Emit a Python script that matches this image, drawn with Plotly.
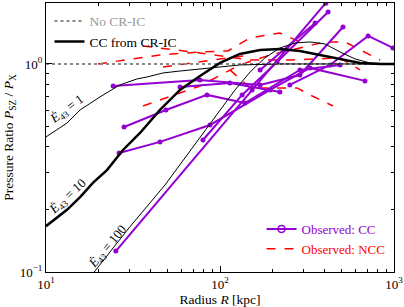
import plotly.graph_objects as go

# ---- model curves (radius kpc, pressure ratio) ----
e1_R = [10, 13.2, 15.7, 20.4, 26.6, 33.3, 38.1, 47.0, 58.9, 76.7, 130, 221, 400, 1000]
e1_P = [0.446, 0.520, 0.601, 0.694, 0.793, 0.847, 0.866, 0.905, 0.925, 0.946, 0.989, 1.0, 1.0, 1.0]

e10_R = [10, 13.2, 15.7, 18.6, 22.4, 25.6, 27.7, 34.7, 45.2, 58.9, 76.7, 100, 130, 170, 221, 288, 376, 490, 638, 832, 1000]
e10_P = [0.166, 0.199, 0.229, 0.268, 0.309, 0.357, 0.386, 0.466, 0.601, 0.750, 0.876, 1.011, 1.117, 1.168, 1.18, 1.155, 1.105, 1.057, 1.011, 1.0, 1.0]

e100_R = [17.4, 18.9, 30.0, 48.3, 76.7, 122, 149, 181, 221, 270, 329, 401, 490, 597, 728, 887, 1000]
e100_P = [0.0915, 0.1, 0.163, 0.262, 0.441, 0.750, 0.915, 1.069, 1.194, 1.262, 1.276, 1.248, 1.142, 1.057, 1.011, 1.0, 1.0]

nocr_R = [10, 1000]
nocr_P = [1.0, 1.0]

# ---- observed cool-core clusters ----
cc_R = [
    [24.3, 76.7, 170, 288, 509],
    [58.9, 114, 221],
    [28.1, 48.9, 84.2, 139, 288, 490],
    [26.3, 45.2, 87.6, 194, 329, 681],
    [25.2, 153, 406, 490],
    [79.8, 134, 213, 418],
    [252, 429, 710, 986],
    [170, 352],
]
cc_P = [
    [0.784, 0.838, 0.793, 0.885, 1.506],
    [0.775, 0.810, 0.733],
    [0.498, 0.601, 0.710, 0.649, 0.936, 0.989],
    [0.373, 0.422, 0.509, 0.750, 0.957, 0.829],
    [0.126, 0.750, 1.96, 2.37],
    [0.431, 0.710, 1.022, 1.778],
    [0.793, 0.989, 1.364, 1.194],
    [0.936, 1.574],
]

# ---- observed non-cool-core clusters ----
ncc_R = [
    [19.9, 45.2, 76.7, 111, 149, 221, 288],
    [36.1, 76.7, 149, 252, 490, 638],
    [47.0, 76.7, 149],
    [36.1, 76.7, 130, 194, 288, 401, 522, 681, 832],
    [114, 149, 277, 329, 446],
]
ncc_P = [
    [1.0, 1.105, 1.142, 1.155, 1.334, 1.409, 1.276],
    [1.22, 1.13, 1.045, 1.045, 1.069, 0.936],
    [0.967, 1.022, 1.105],
    [0.628, 0.784, 0.989, 1.105, 1.194, 1.276, 1.276, 1.142, 1.045],
    [0.936, 0.767, 0.767, 0.710, 0.628],
]

PURPLE = "#9400D3"
RED = "#FF0000"
FONT = "Liberation Serif"

fig = go.Figure()

for r, p in zip(ncc_R, ncc_P):
    fig.add_trace(go.Scatter(x=r, y=p, mode="lines", line=dict(color=RED, width=1.5, dash="dash"),
                             showlegend=False, hoverinfo="skip"))
for r, p in zip(cc_R, cc_P):
    fig.add_trace(go.Scatter(x=r, y=p, mode="lines+markers", line=dict(color=PURPLE, width=2),
                             marker=dict(size=5, color=PURPLE), showlegend=False, hoverinfo="skip"))

fig.add_trace(go.Scatter(x=nocr_R, y=nocr_P, mode="lines", line=dict(color="#888888", width=2, dash="dot"),
                         name="<span style='color:#999999'>No CR-IC</span>", legend="legend"))
fig.add_trace(go.Scatter(x=e1_R, y=e1_P, mode="lines", line=dict(color="black", width=1),
                         showlegend=False))
fig.add_trace(go.Scatter(x=e100_R, y=e100_P, mode="lines", line=dict(color="black", width=1),
                         showlegend=False))
fig.add_trace(go.Scatter(x=e10_R, y=e10_P, mode="lines", line=dict(color="black", width=2.5),
                         name="CC from CR-IC", legend="legend"))

# legend-only entries for observations
fig.add_trace(go.Scatter(x=[None], y=[None], mode="lines+markers",
                         line=dict(color=PURPLE, width=2),
                         marker=dict(symbol="circle-open", size=7, color=PURPLE, line=dict(width=1.5)),
                         name=f"<span style='color:{PURPLE}'>Observed: CC</span>", legend="legend2"))
fig.add_trace(go.Scatter(x=[None], y=[None], mode="lines",
                         line=dict(color=RED, width=1.5, dash="dash"),
                         name=f"<span style='color:{RED}'>Observed: NCC</span>", legend="legend2"))

minor_x = [v * m for m in (10, 100) for v in range(2, 10)]
minor_y = [v / 10 for v in range(2, 10)] + [2]

fig.update_xaxes(type="log", range=[1, 3], showgrid=False, zeroline=False, automargin=False,
                 showline=True, linecolor="black", linewidth=1, mirror="allticks",
                 ticks="inside", ticklen=6, tickcolor="black",
                 tickvals=[10, 100, 1000], ticktext=["10<sup>1</sup>", "10<sup>2</sup>", "10<sup>3</sup>"],
                 minor=dict(tickmode="array", tickvals=minor_x, ticks="inside", ticklen=3, tickcolor="black"),
                 tickfont=dict(family=FONT, size=13, color="black"),
                 title=dict(text="Radius <i>R</i> [kpc]", font=dict(family=FONT, size=13.5, color="black"), standoff=4))
fig.update_yaxes(type="log", range=[-1, 0.293], showgrid=False, zeroline=False, automargin=False,
                 showline=True, linecolor="black", linewidth=1, mirror="allticks",
                 ticks="inside", ticklen=6, tickcolor="black",
                 tickvals=[0.1, 1], ticktext=["10<sup>−1</sup>", "10<sup>0</sup>"],
                 minor=dict(tickmode="array", tickvals=minor_y, ticks="inside", ticklen=3, tickcolor="black"),
                 tickfont=dict(family=FONT, size=13, color="black"),
                 title=dict(text="Pressure Ratio <i>P</i><sub>SZ</sub> / <i>P</i><sub>X</sub>",
                            font=dict(family=FONT, size=13.5, color="black"), standoff=2))

ann_font = dict(family=FONT, size=13, color="black")
fig.add_annotation(x=1.121, y=-0.221, xref="x", yref="y", text="<i>Ė</i><sub>43</sub> = 1",
                   showarrow=False, textangle=-37, font=ann_font)
fig.add_annotation(x=1.126, y=-0.635, xref="x", yref="y", text="<i>Ė</i><sub>43</sub> = 10",
                   showarrow=False, textangle=-43, font=ann_font)
fig.add_annotation(x=1.351, y=-0.88, xref="x", yref="y", text="<i>Ė</i><sub>43</sub> = 100",
                   showarrow=False, textangle=-50, font=ann_font)

fig.update_layout(
    width=404, height=307,
    margin=dict(l=46, r=10, t=3, b=35),
    paper_bgcolor="white", plot_bgcolor="white",
    font=dict(family=FONT, size=13, color="black"),
    legend=dict(x=0.01, y=0.99, xanchor="left", yanchor="top", bgcolor="rgba(0,0,0,0)",
                font=dict(family=FONT, size=13.5), itemwidth=30, tracegroupgap=0),
    legend2=dict(x=0.99, y=0.03, xanchor="right", yanchor="bottom", bgcolor="rgba(0,0,0,0)",
                 font=dict(family=FONT, size=13), itemwidth=30, tracegroupgap=0),
)

fig.write_html("out.html", config={"displayModeBar": False},
               post_script="document.body.style.margin='0';document.body.style.padding='0';")
